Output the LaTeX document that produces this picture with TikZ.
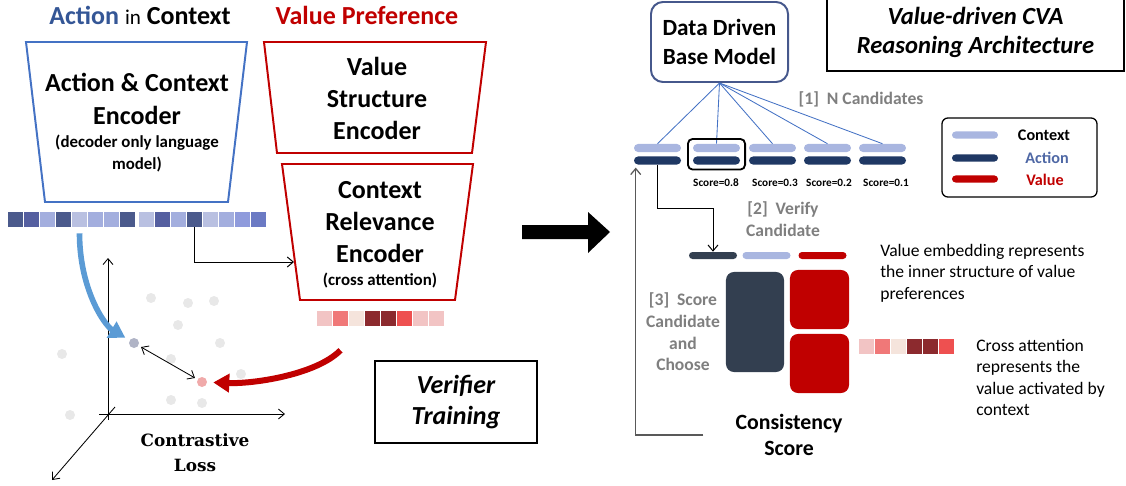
\documentclass[tikz,border=0pt]{standalone}
\usepackage{fontspec}
\setmainfont{Carlito}
\newfontfamily\lossfont{DejaVu Serif}
\usetikzlibrary{arrows.meta,fit}

\definecolor{encblue}{RGB}{68,114,196}
\definecolor{encred}{RGB}{192,0,0}
\definecolor{titleblue}{RGB}{52,86,150}
\definecolor{legblue}{RGB}{79,104,165}
\definecolor{basecol}{RGB}{70,88,140}
\definecolor{candlight}{RGB}{169,182,224}
\definecolor{canddark}{RGB}{31,56,100}
\definecolor{verdark}{RGB}{51,63,80}
\definecolor{stepgrey}{RGB}{127,127,127}
\definecolor{dotgrey}{RGB}{232,232,232}
\definecolor{dotact}{RGB}{176,180,198}
\definecolor{dotval}{RGB}{240,170,170}
\definecolor{arrowblue}{RGB}{91,155,213}
\definecolor{e1}{RGB}{75,90,140}
\definecolor{e2}{RGB}{85,95,160}
\definecolor{e3}{RGB}{163,174,222}
\definecolor{e4}{RGB}{185,192,225}
\definecolor{e5}{RGB}{143,155,220}
\definecolor{e6}{RGB}{107,122,196}
\definecolor{rk1}{RGB}{242,196,196}
\definecolor{rk2}{RGB}{240,120,120}
\definecolor{rk3}{RGB}{245,228,220}
\definecolor{rk4}{RGB}{140,42,46}
\definecolor{rk5}{RGB}{238,80,80}

\begin{document}
\begin{tikzpicture}[x=0.025cm, y=-0.025cm,
    every node/.style={inner sep=0pt, align=center},
    enc_blue/.style={draw=encblue, line width=1.4pt},
    enc_red/.style={draw=encred, line width=1.4pt},
    big_text/.style={font=\bfseries\fontsize{18.5}{23}\selectfont},
    small_text/.style={font=\bfseries\fontsize{12}{15}\selectfont},
    emb_cell/.style={minimum width=0.375cm, minimum height=0.375cm},
    gdot/.style={circle, fill=dotgrey, minimum size=0.25cm},
    thin_arrow/.style={-{Straight Barb[length=0.15cm,width=0.25cm]}, line width=0.7pt},
    axis_line/.style={thin_arrow, line width=0.6pt},
    ctx_bar/.style={fill=candlight, rounded corners=0.1cm, minimum width=1.175cm, minimum height=0.2cm},
    act_bar/.style={ctx_bar, fill=canddark},
    small_bar/.style={rounded corners=0.0875cm, minimum width=1.2cm, minimum height=0.175cm},
    leg_bar/.style={rounded corners=0.0875cm, minimum width=1.15cm, minimum height=0.175cm},
    leg_text/.style={font=\bfseries\fontsize{11.5}{14}\selectfont},
    block/.style={rounded corners=0.2cm},
    step_text/.style={font=\bfseries\fontsize{12.5}{15.4}\selectfont, text=stepgrey},
    note_text/.style={font=\fontsize{12.5}{15.4}\selectfont, align=left, anchor=west},
    score_text/.style={font=\bfseries\fontsize{8}{9}\selectfont},
    ]
    \useasboundingbox (0,0) rectangle (1126,486);

    % training side
    \node[font=\bfseries\fontsize{18.5}{22}\selectfont] (ttl_ac) at (140,15)
      {\textcolor{titleblue}{Action} {\mdseries\fontsize{15}{18}\selectfont in} Context};
    \node[font=\bfseries\fontsize{18.5}{22}\selectfont, text=encred] (ttl_vp) at (367,15) {Value Preference};

    \draw[enc_blue] (26,42) -- (247,42) -- (228,202) -- (45,202) -- cycle;
    \node[big_text] (ace) at (137,99) {Action \& Context\\Encoder};
    \node[small_text] (ace_sub) at (137,153.5) {(decoder only language\\model)};

    \draw[enc_red] (264,42) -- (486,42) -- (472,153) -- (277,153) -- cycle;
    \node[big_text] (vse) at (377,98.5) {Value\\Structure\\Encoder};

    \draw[enc_red] (282,164) -- (473,164) -- (455,300) -- (300,300) -- cycle;
    \node[big_text] (cre) at (380,222) {Context\\Relevance\\Encoder};
    \node[small_text] (cre_sub) at (380,281) {(cross attention)};
    \coordinate (cre_in) at (294,262);

    \foreach \c [count=\i] in {e1,e2,e3,e1,e4,e3,e3,e1}
      \node[emb_cell, fill=\c] (a\i) at ({15.5+16*(\i-1)},219.5) {};
    \foreach \c [count=\i] in {e4,e2,e3,e1,e4,e3,e5,e6}
      \node[emb_cell, fill=\c] (b\i) at ({146.2+16*(\i-1)},219.5) {};
    \foreach \c [count=\i] in {rk1,rk2,rk3,rk4,rk4,rk5,rk1,rk1}
      \node[emb_cell, fill=\c] (r\i) at ({324.5+16*(\i-1)},318.5) {};

    \draw[thin_arrow] (b4.south) |- (cre_in);

    \draw[axis_line] (108,420) -- (108,258);
    \draw[axis_line] (99,414) -- (285,414);
    \draw[axis_line] (115,407) -- (52,480);

    \foreach \p [count=\i] in {(151,298),(188,303),(214,301),(178,325),(220,343),(62,354),(171,359),(241,374),(171,400),(202,403),(70,415)}
      \node[gdot] (g\i) at \p {};
    \node[gdot, fill=dotact] (dA) at (134,343) {};
    \node[gdot, fill=dotval] (dB) at (202,382) {};
    \draw[line width=0.6pt, {Straight Barb[length=0.15cm,width=0.25cm]}-{Straight Barb[length=0.15cm,width=0.25cm]},
      shorten <=2pt, shorten >=2pt] (dA) -- (dB);

    \draw[arrowblue, line width=0.14cm, -{Triangle[length=0.4cm,width=0.45cm]}, shorten >=0.12cm]
      ([yshift=-0.15cm]a5.south) .. controls +(0,55) and +(-30,-18) .. (dA);
    \draw[encred, line width=0.15cm, -{Triangle[length=0.4cm,width=0.45cm]}, shorten >=0.15cm]
      ([yshift=-0.6cm]r2.south) .. controls +(-25,25) and +(50,2) .. (dB);

    \node[font=\lossfont\bfseries\fontsize{12}{18}\selectfont] (loss) at (195,453) {Contrastive\\Loss};

    \node[draw, line width=1.4pt, minimum width=4.05cm, minimum height=2.05cm,
      font=\bfseries\itshape\fontsize{18.5}{21.5}\selectfont] (verif) at (456,402) {Verifier\\Training};

    \fill (522,225) -- (588,225) -- (588,212) -- (610,232) -- (588,253) -- (588,239) -- (522,239) -- cycle;

    % reasoning side
    \node[draw=basecol, line width=1.4pt, rounded corners=0.3cm, minimum width=3.425cm, minimum height=2cm,
      font=\bfseries\fontsize{16.5}{20}\selectfont] (base) at (719.5,42) {Data Driven\\Base Model};
    \node[draw, line width=1.4pt, minimum width=7.425cm, minimum height=1.925cm,
      font=\bfseries\itshape\fontsize{17.5}{20.6}\selectfont] (arch) at (975.5,32.5) {Value-driven CVA\\Reasoning Architecture};

    \foreach \x [count=\i] in {657.5,716.5,772.5,827.5,882.5} {
      \node[ctx_bar] (ctx\i) at (\x,148) {};
      \node[act_bar] (act\i) at (\x,160.5) {};
      \draw[encblue, line width=0.6pt] (base.south) -- (ctx\i.north);
    }
    \node[draw, line width=1.3pt, rounded corners=0.12cm, inner sep=0.12cm, fit=(ctx2)(act2)] (sel) {};
    \node[step_text] (step1) at (861,99) {[1]\hspace{0.45em}N Candidates};
    \foreach \x/\s [count=\i from 2] in {716/0.8,775/0.3,829/0.2,886/0.1}
      \node[score_text] (sc\i) at (\x,183) {Score=\s};

    \node[draw, line width=0.9pt, rounded corners=0.15cm, minimum width=3.875cm, minimum height=1.975cm] (legend) at (1019.5,157.5) {};
    \node[leg_bar, fill=candlight] (lg_ctx) at (975,135) {};
    \node[leg_bar, fill=canddark] (lg_act) at (975,158) {};
    \node[leg_bar, fill=encred] (lg_val) at (975,179) {};
    \node[leg_text] (lt_ctx) at (1044,135) {Context};
    \node[leg_text, text=legblue] (lt_act) at (1047,158) {Action};
    \node[leg_text, text=encred] (lt_val) at (1045,180) {Value};

    \node[step_text] (step2) at (783,219) {[2]\hspace{0.45em}Verify\\Candidate};
    \node[small_bar, fill=verdark] (vact) at (713,255.5) {};
    \node[small_bar, fill=candlight] (vctx) at (766.5,255.5) {};
    \node[small_bar, fill=encred] (vval) at (822.5,255.5) {};
    \draw[thin_arrow] (act1.south) -- ++(0,44) -| (vact.north);

    \node[block, fill=verdark, minimum width=1.45cm, minimum height=2.5cm] (bigact) at (755,322) {};
    \node[block, fill=encred, minimum size=1.475cm] (valtop) at (819.5,299.5) {};
    \node[block, fill=encred, minimum size=1.475cm] (valbot) at (819.5,363.5) {};

    \node[step_text] (step3) at (683,332) {[3]\hspace{0.45em}Score\\Candidate\\and\\Choose};
    \node[font=\bfseries\fontsize{15.5}{18.5}\selectfont] (cons) at (789,435) {Consistency\\Score};
    \draw[thin_arrow, draw=black!65, line width=0.9pt, shorten >=2pt] ([xshift=-0.8cm]cons.west) -| ([xshift=0.05cm]act1.south west);

    \node[note_text] (note_val) at (880,273) {Value embedding represents\\the inner structure of value\\preferences};
    \foreach \c [count=\i] in {rk1,rk2,rk3,rk4,rk4,rk5}
      \node[emb_cell, fill=\c] (k\i) at ({866.5+16*(\i-1)},346.5) {};
    \node[note_text] (note_att) at (976,377.5) {Cross attention\\represents the\\value activated by\\context};

\end{tikzpicture}
\end{document}
